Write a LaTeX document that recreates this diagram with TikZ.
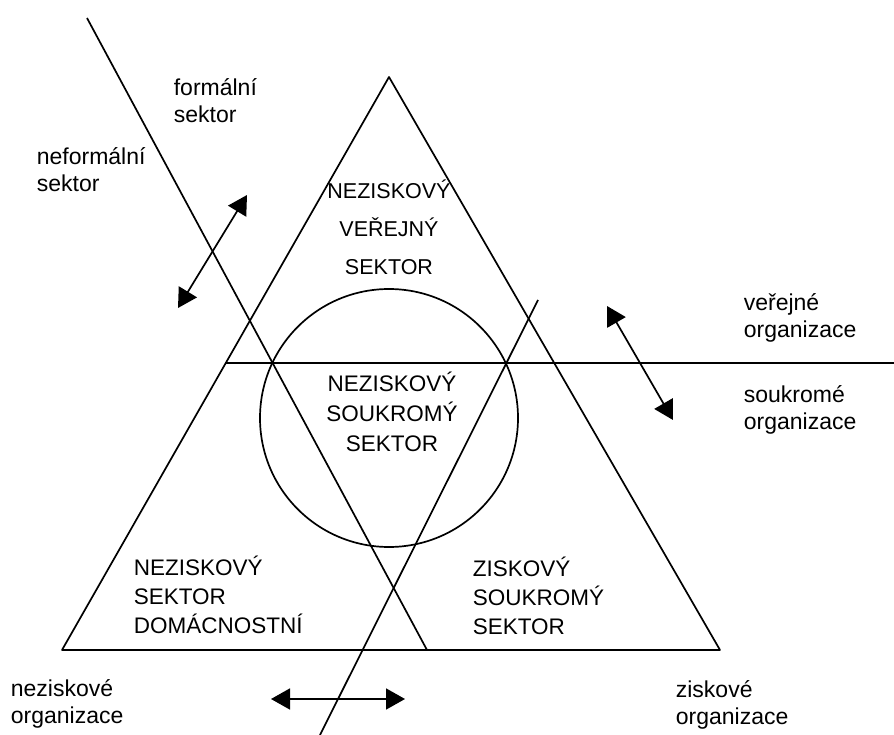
\documentclass[tikz,border=0pt]{standalone}
\usepackage{fontspec}
\setmainfont{Liberation Sans}
\usetikzlibrary{arrows.meta}
\begin{document}
\begin{tikzpicture}[x=1pt, y=-1pt, line width=1.7pt, line join=round,
	sipka/.style={{Triangle[length=19pt,width=21pt]}-{Triangle[length=19pt,width=21pt]}},
	popis/.style={font=\fontsize{23}{27}\selectfont, align=left, anchor=west, inner sep=0pt},
	sektor/.style={font=\fontsize{22.5}{#1}\selectfont, inner sep=0pt}]
	\useasboundingbox (0,0) rectangle (894,735);
	% trojuhelnik a kruh
	\coordinate (V) at (389,77); \coordinate (L) at (62,650); \coordinate (R) at (720,650);
	\coordinate (S) at (389,418);
	\draw (V)--(L)--(R)--cycle;
	\draw (S) circle (129);
	% deliciho cary
	\coordinate (F1) at (87,18); \coordinate (F2) at (427,650);
	\coordinate (Z1) at (538,300); \coordinate (Z2) at (320,735);
	\coordinate (H1) at (226,363); \coordinate (H2) at (894,363);
	\draw (F1)--(F2);
	\draw (Z1)--(Z2);
	\draw (H1)--(H2);
	% sipky
	\coordinate (A1) at (178,308); \coordinate (A2) at (247,195);
	\coordinate (B1) at (607,306); \coordinate (B2) at (673,420);
	\coordinate (C1) at (271,699); \coordinate (C2) at (405,699);
	\draw[sipka] (A1)--(A2);
	\draw[sipka] (B1)--(B2);
	\draw[sipka] (C1)--(C2);
	% popisy
	\node[popis] (formal) at (173,101) {formální\\sektor};
	\node[popis] (neformal) at (36,170) {neformální\\sektor};
	\node[popis] (verejne) at (743,318) {veřejné\\organizace};
	\node[popis] (soukrome) at (743,410) {soukromé\\organizace};
	\node[popis] (neziskove) at (10,704) {neziskové\\organizace};
	\node[popis] (ziskove) at (675,705) {ziskové\\organizace};
	\node[sektor=38, align=center, font=\fontsize{21.5}{38}\selectfont] (nvs) at (389,227) {NEZISKOVÝ\\VEŘEJNÝ\\SEKTOR};
	\node[sektor=30, align=center] (nss) at (392,412) {NEZISKOVÝ\\SOUKROMÝ\\SEKTOR};
	\node[sektor=29, align=left, anchor=west] (nsd) at (133,595) {NEZISKOVÝ\\SEKTOR\\DOMÁCNOSTNÍ};
	\node[sektor=29, align=left, anchor=west] (zss) at (472,596) {ZISKOVÝ\\SOUKROMÝ\\SEKTOR};
\end{tikzpicture}
\end{document}
